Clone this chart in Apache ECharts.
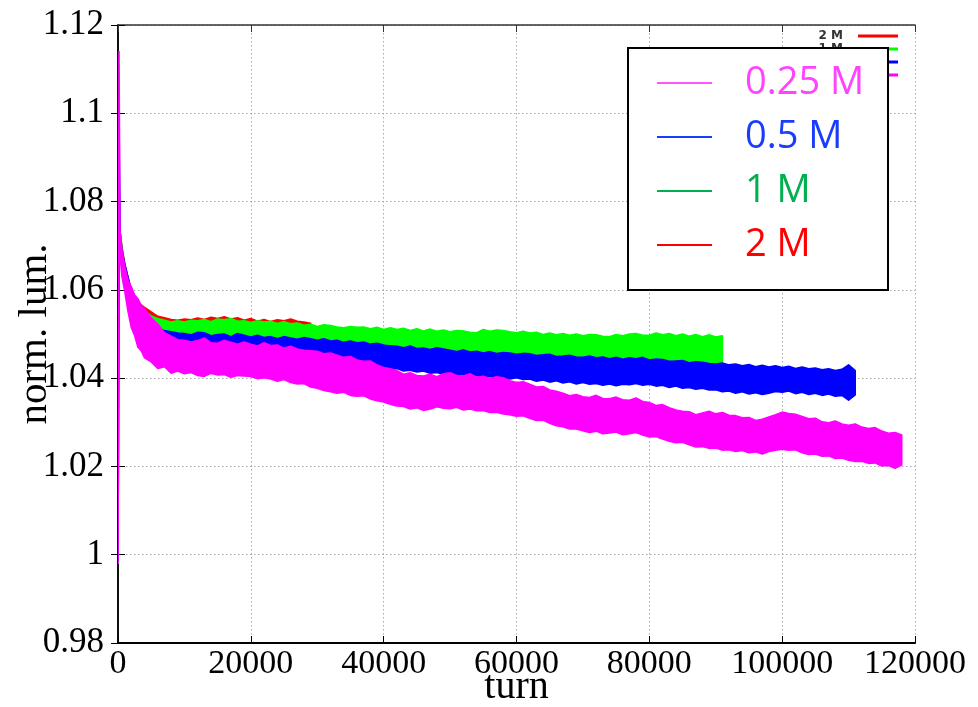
<!DOCTYPE html>
<html>
<head>
<meta charset="utf-8">
<script src="https://cdn.jsdelivr.net/npm/echarts@6/dist/echarts.min.js"></script>
<style>html,body{margin:0;padding:0;background:#fff;}#c{width:978px;height:707px;}</style>
</head>
<body>
<div id="c"></div>
<script>
// sample positions (turn)
var turns = [0,150,300,600,1000,1500,2000,2500,3000,3500,4000,5000,6000,7000,8000,9000,
10000,11000,12000,13000,14000,15000,16000,17000,18000,19000,
20000,21000,22000,23000,24000,25000,26000,27000,28000,29000,
30000,31000,32000,33000,34000,35000,36000,37000,38000,39000,
40000,41000,42000,43000,44000,45000,46000,47000,48000,49000,
50000,51000,52000,53000,54000,55000,56000,57000,58000,59000,
60000,61000,62000,63000,64000,65000,66000,67000,68000,69000,
70000,71000,72000,73000,74000,75000,76000,77000,78000,79000,
80000,81000,82000,83000,84000,85000,86000,87000,88000,89000,
90000,91000,92000,93000,94000,95000,96000,97000,98000,99000,
100000,101000,102000,103000,104000,105000,106000,107000,108000,109000,
110000,111000,112000,113000,114000,115000,116000,117000,118000];

// 0.25 M (upper / lower edge of the noisy band)
var magHi = [1.0000,1.1140,1.0735,1.0690,1.0655,1.0622,1.0607,1.0588,1.0580,1.0563,1.0557,1.0536,1.0522,1.0503,1.0495,1.0487,
1.0486,1.0482,1.0485,1.0491,1.0480,1.0479,1.0486,1.0481,1.0477,1.0482,
1.0477,1.0473,1.0480,1.0474,1.0475,1.0468,1.0472,1.0466,1.0463,1.0462,
1.0461,1.0455,1.0457,1.0452,1.0447,1.0449,1.0441,1.0438,1.0439,1.0430,
1.0424,1.0421,1.0417,1.0409,1.0412,1.0406,1.0405,1.0409,1.0403,1.0410,
1.0412,1.0406,1.0405,1.0410,1.0402,1.0404,1.0399,1.0403,1.0401,1.0394,
1.0390,1.0392,1.0386,1.0380,1.0381,1.0373,1.0370,1.0366,1.0360,1.0363,
1.0358,1.0356,1.0361,1.0354,1.0353,1.0357,1.0351,1.0350,1.0355,1.0347,
1.0345,1.0338,1.0340,1.0333,1.0328,1.0325,1.0324,1.0317,1.0321,1.0325,
1.0319,1.0322,1.0316,1.0315,1.0310,1.0311,1.0304,1.0307,1.0312,1.0317,
1.0323,1.0320,1.0318,1.0313,1.0308,1.0309,1.0301,1.0299,1.0303,1.0296,
1.0293,1.0296,1.0289,1.0286,1.0288,1.0280,1.0275,1.0277,1.0271];
var magLo = [0.9980,1.0700,1.0680,1.0630,1.0598,1.0552,1.0515,1.0497,1.0470,1.0462,1.0446,1.0437,1.0422,1.0426,1.0411,1.0416,
1.0410,1.0413,1.0406,1.0404,1.0411,1.0407,1.0408,1.0402,1.0406,1.0405,
1.0404,1.0399,1.0401,1.0398,1.0393,1.0397,1.0390,1.0387,1.0388,1.0380,
1.0377,1.0372,1.0369,1.0366,1.0368,1.0361,1.0359,1.0360,1.0353,1.0349,
1.0346,1.0341,1.0337,1.0336,1.0330,1.0333,1.0327,1.0330,1.0335,1.0332,
1.0331,1.0334,1.0328,1.0330,1.0326,1.0327,1.0322,1.0323,1.0319,1.0317,
1.0314,1.0315,1.0309,1.0304,1.0305,1.0298,1.0292,1.0290,1.0285,1.0285,
1.0281,1.0277,1.0280,1.0274,1.0276,1.0278,1.0272,1.0274,1.0277,1.0271,
1.0267,1.0268,1.0262,1.0257,1.0254,1.0255,1.0249,1.0244,1.0245,1.0241,
1.0242,1.0237,1.0238,1.0234,1.0236,1.0231,1.0233,1.0228,1.0234,1.0237,
1.0239,1.0237,1.0238,1.0231,1.0227,1.0228,1.0223,1.0224,1.0218,1.0219,
1.0214,1.0211,1.0212,1.0207,1.0208,1.0201,1.0202,1.0196,1.0203];

// 0.5 M
var blueHi = [1.0000,1.1000,1.0730,1.0690,1.0660,1.0630,1.0598,1.0580,1.0565,1.0553,1.0545,1.0520,1.0512,1.0508,1.0505,1.0502,
1.0501,1.0498,1.0504,1.0503,1.0496,1.0499,1.0500,1.0494,1.0501,1.0497,
1.0493,1.0497,1.0492,1.0494,1.0490,1.0494,1.0491,1.0488,1.0492,1.0489,
1.0486,1.0489,1.0484,1.0486,1.0481,1.0484,1.0480,1.0482,1.0477,1.0479,
1.0475,1.0473,1.0472,1.0469,1.0473,1.0467,1.0468,1.0465,1.0469,1.0466,
1.0463,1.0460,1.0464,1.0459,1.0461,1.0457,1.0460,1.0456,1.0458,1.0457,
1.0454,1.0456,1.0455,1.0451,1.0453,1.0454,1.0449,1.0450,1.0452,1.0448,
1.0447,1.0450,1.0446,1.0448,1.0444,1.0447,1.0443,1.0446,1.0444,1.0447,
1.0441,1.0443,1.0442,1.0438,1.0439,1.0440,1.0435,1.0437,1.0436,1.0433,
1.0432,1.0434,1.0430,1.0432,1.0428,1.0431,1.0426,1.0429,1.0425,1.0428,
1.0424,1.0427,1.0422,1.0425,1.0421,1.0423,1.0419,1.0421,1.0417,1.0420,
1.0430,1.0417];
var blueLo = [0.9985,1.0700,1.0690,1.0650,1.0620,1.0575,1.0540,1.0525,1.0512,1.0505,1.0498,1.0487,1.0477,1.0472,1.0468,1.0466,
1.0463,1.0466,1.0460,1.0463,1.0459,1.0461,1.0465,1.0460,1.0460,1.0457,
1.0460,1.0456,1.0458,1.0454,1.0457,1.0452,1.0454,1.0449,1.0450,1.0446,
1.0447,1.0443,1.0444,1.0439,1.0441,1.0436,1.0437,1.0432,1.0433,1.0427,
1.0425,1.0421,1.0422,1.0416,1.0418,1.0414,1.0416,1.0411,1.0413,1.0409,
1.0411,1.0407,1.0408,1.0403,1.0406,1.0401,1.0404,1.0399,1.0402,1.0398,
1.0401,1.0397,1.0398,1.0393,1.0396,1.0391,1.0394,1.0389,1.0392,1.0387,
1.0390,1.0386,1.0388,1.0384,1.0387,1.0383,1.0386,1.0385,1.0388,1.0384,
1.0386,1.0382,1.0384,1.0379,1.0382,1.0377,1.0379,1.0375,1.0377,1.0373,
1.0374,1.0369,1.0371,1.0366,1.0369,1.0364,1.0367,1.0363,1.0366,1.0370,
1.0368,1.0371,1.0365,1.0368,1.0363,1.0366,1.0361,1.0364,1.0359,1.0361,
1.0350,1.0362];

// 1 M
var greenHi = [1.0000,1.0900,1.0733,1.0695,1.0655,1.0620,1.0592,1.0574,1.0565,1.0557,1.0552,1.0541,1.0535,1.0531,1.0527,1.0530,
1.0527,1.0531,1.0530,1.0533,1.0528,1.0534,1.0532,1.0535,1.0529,1.0530,
1.0526,1.0530,1.0527,1.0529,1.0524,1.0528,1.0523,1.0525,1.0520,1.0522,
1.0517,1.0521,1.0519,1.0516,1.0514,1.0517,1.0515,1.0516,1.0512,1.0515,
1.0510,1.0514,1.0510,1.0513,1.0508,1.0512,1.0507,1.0511,1.0506,1.0509,
1.0505,1.0508,1.0507,1.0504,1.0503,1.0510,1.0506,1.0509,1.0508,1.0505,
1.0503,1.0506,1.0502,1.0504,1.0499,1.0502,1.0498,1.0501,1.0497,1.0500,
1.0496,1.0499,1.0498,1.0495,1.0494,1.0499,1.0496,1.0500,1.0501,1.0497,
1.0497,1.0502,1.0498,1.0501,1.0496,1.0500,1.0495,1.0499,1.0494,1.0498,
1.0493,1.0496];
var greenLo = [0.9980,1.0700,1.0690,1.0655,1.0625,1.0585,1.0560,1.0545,1.0530,1.0525,1.0515,1.0500,1.0490,1.0488,1.0485,1.0482,
1.0480,1.0482,1.0478,1.0481,1.0477,1.0480,1.0476,1.0479,1.0475,1.0478,
1.0474,1.0476,1.0472,1.0475,1.0471,1.0474,1.0470,1.0472,1.0468,1.0469,
1.0466,1.0467,1.0464,1.0465,1.0462,1.0463,1.0460,1.0461,1.0458,1.0459,
1.0455,1.0456,1.0452,1.0453,1.0449,1.0450,1.0447,1.0448,1.0445,1.0446,
1.0443,1.0444,1.0441,1.0442,1.0440,1.0441,1.0438,1.0439,1.0437,1.0438,
1.0436,1.0437,1.0434,1.0435,1.0432,1.0433,1.0431,1.0432,1.0430,1.0431,
1.0429,1.0430,1.0428,1.0429,1.0427,1.0428,1.0426,1.0427,1.0425,1.0426,
1.0424,1.0425,1.0423,1.0424,1.0422,1.0423,1.0421,1.0422,1.0420,1.0421,
1.0420,1.0428];

// 2 M
var redHi = [1.0000,1.0850,1.0734,1.0697,1.0660,1.0628,1.0601,1.0585,1.0574,1.0566,1.0560,1.0550,1.0540,1.0537,1.0533,1.0531,
1.0534,1.0532,1.0536,1.0533,1.0538,1.0535,1.0539,1.0534,1.0537,1.0531,
1.0535,1.0529,1.0533,1.0528,1.0532,1.0530,1.0534,1.0529,1.0527,1.0524];
var redLo = [0.9985,1.0700,1.0700,1.0665,1.0630,1.0595,1.0570,1.0550,1.0540,1.0530,1.0525,1.0515,1.0510,1.0505,1.0502,1.0503,
1.0500,1.0502,1.0500,1.0503,1.0500,1.0505,1.0501,1.0503,1.0500,1.0502,
1.0499,1.0501,1.0498,1.0500,1.0497,1.0499,1.0496,1.0497,1.0495,1.0494];

var seriesNames = ['2 M', '1 M', '0.5 M', '0.25 M'];
var xTicks = [0, 20000, 40000, 60000, 80000, 100000, 120000];
var xTickLabels = ['0', '20000', '40000', '60000', '80000', '100000', '120000'];
var yTicks = [0.98, 1.0, 1.02, 1.04, 1.06, 1.08, 1.1, 1.12];
var yTickLabels = ['0.98', '1', '1.02', '1.04', '1.06', '1.08', '1.1', '1.12'];

function band(name, color, hi, lo) {
  var data = hi.map(function (h, i) { return [turns[i], lo[i], h]; });
  return {
    type: 'custom', name: name, data: data, clip: true,
    encode: { x: 0, y: [1, 2] },
    itemStyle: { color: color },
    renderItem: function (params, api) {
      if (params.dataIndex !== 0) return null;
      var pts = [];
      for (var i = 0; i < data.length; i++) pts.push(api.coord([data[i][0], data[i][2]]));
      for (var j = data.length - 1; j >= 0; j--) pts.push(api.coord([data[j][0], data[j][1]]));
      return { type: 'polygon', shape: { points: pts },
        style: { fill: color, stroke: color, lineWidth: 1.6, lineJoin: 'round' } };
    }
  };
}

var serif = 'Liberation Serif';
var chart = echarts.init(document.getElementById('c'), null, { renderer: 'canvas' });
chart.setOption({
  backgroundColor: '#fff',
  animation: false,
  grid: { left: 118, right: 63, top: 25, bottom: 64, containLabel: false, outerBoundsMode: 'none' },
  xAxis: [{
    type: 'value', min: 0, max: 120000, interval: 20000, position: 'bottom',
    axisLine: { lineStyle: { color: '#000', width: 2 } },
    axisTick: { inside: true, length: 7, lineStyle: { color: '#000' } },
    axisLabel: { margin: 4, color: '#000', fontFamily: serif, fontSize: 34,
      formatter: function (v) { var k = xTicks.indexOf(Math.round(v)); return k >= 0 ? xTickLabels[k] : ''; } },
    splitLine: { show: true, lineStyle: { color: '#aaa', width: 1, type: [1.5, 2.5] } },
    name: 'turn', nameLocation: 'middle', nameGap: 24, nameMoveOverlap: false,
    nameTextStyle: { color: '#000', fontFamily: serif, fontSize: 40 }
  }, {
    type: 'value', min: 0, max: 120000, interval: 20000, position: 'top',
    axisLine: { lineStyle: { color: '#333', width: 1.5 } },
    axisTick: { inside: true, length: 7, lineStyle: { color: '#333' } },
    axisLabel: { show: false }, splitLine: { show: false }
  }],
  yAxis: [{
    type: 'value', min: 0.98, max: 1.12, interval: 0.02, position: 'left',
    axisLine: { show: true, lineStyle: { color: '#000', width: 1.5 } },
    axisTick: { show: true, inside: true, length: 7, lineStyle: { color: '#000' } },
    axisLabel: { margin: 14, color: '#000', fontFamily: serif, fontSize: 35,
      formatter: function (v) { for (var k = 0; k < yTicks.length; k++) if (Math.abs(yTicks[k] - v) < 1e-6) return yTickLabels[k]; return ''; } },
    splitLine: { show: true, lineStyle: { color: '#aaa', width: 1, type: [1.5, 2.5] } },
    name: 'norm. lum.', nameLocation: 'middle', nameGap: 62, nameMoveOverlap: false,
    nameTextStyle: { color: '#000', fontFamily: serif, fontSize: 41 }
  }, {
    type: 'value', min: 0.98, max: 1.12, interval: 0.02, position: 'right',
    axisLine: { show: true, lineStyle: { color: '#000', width: 1.5 } },
    axisTick: { show: true, inside: true, length: 7, lineStyle: { color: '#000' } },
    axisLabel: { show: false }, splitLine: { show: false }
  }],
  legend: [{
    // small original legend, mostly hidden behind the box
    selectedMode: false, orient: 'vertical', right: 80, top: 30, align: 'right', z: 3,
    padding: 0, itemWidth: 40, itemHeight: 3, itemGap: 1, icon: 'rect',
    textStyle: { fontSize: 12, fontWeight: 'bold', color: '#333', fontFamily: 'DejaVu Sans', padding: [0, 10, 0, 0] },
    data: [
      { name: '2 M', itemStyle: { color: '#ff0000' } },
      { name: '1 M', itemStyle: { color: '#00ff00' } },
      { name: '0.5 M', itemStyle: { color: '#0000ff' } },
      { name: '0.25 M', itemStyle: { color: '#ff00ff' } }
    ]
  }, {
    selectedMode: false, orient: 'vertical', left: 627, top: 47, z: 20,
    padding: [17, 0, 0, 30], itemGap: 16, itemWidth: 55, itemHeight: 2, icon: 'rect',
    textStyle: { fontSize: 38, fontFamily: 'Open Sans', padding: [0, 0, 0, 28] },
    data: [
      { name: '0.25 M', itemStyle: { color: '#ff55ff' }, textStyle: { color: '#ff44ff' } },
      { name: '0.5 M', itemStyle: { color: '#1a3cff' }, textStyle: { color: '#1a3cff' } },
      { name: '1 M', itemStyle: { color: '#00b050' }, textStyle: { color: '#00b050' } },
      { name: '2 M', itemStyle: { color: '#ff0000' }, textStyle: { color: '#ff0000' } }
    ]
  }],
  graphic: [{
    type: 'rect', left: 627, top: 47, z: 10,
    shape: { width: 260, height: 242 },
    style: { fill: '#fff', stroke: '#000', lineWidth: 2 }
  }],
  series: [
    band(seriesNames[0], '#ff0000', redHi, redLo),
    band(seriesNames[1], '#00ff00', greenHi, greenLo),
    band(seriesNames[2], '#0000ff', blueHi, blueLo),
    band(seriesNames[3], '#ff00ff', magHi, magLo)
  ]
});
</script>
</body>
</html>
